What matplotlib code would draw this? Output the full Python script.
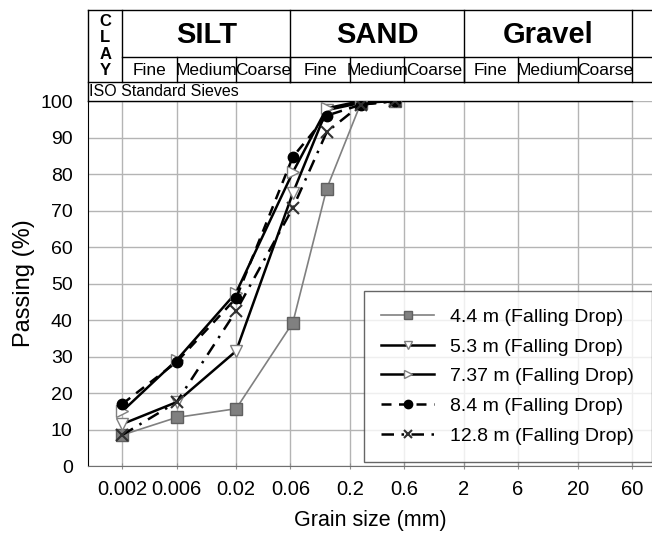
"""
Curbe granulometrice (Falling Drop) cu antet de clasificare ISO deasupra graficului.
"""

import matplotlib
matplotlib.use("Agg")
import matplotlib.pyplot as plt
from matplotlib.ticker import FixedLocator, FixedFormatter, NullLocator
from matplotlib.transforms import blended_transform_factory

plt.rcParams["font.family"] = ["Liberation Sans", "DejaVu Sans"]

# ── Date ─────────────────────────────────────────────────────────────────────

sizes = [0.002, 0.006, 0.02, 0.063, 0.125, 0.25, 0.5]

pass_4_4  = [8.5, 13.3, 15.7, 39.3, 76.0, 99.5, 100.0]
pass_5_3  = [11.5, 17.5, 31.5, 74.8, 97.5, 99.5, 100.0]
pass_7_37 = [15.0, 29.0, 47.5, 80.5, 98.0, 100.0, 100.0]
pass_8_4  = [17.0, 28.5, 46.0, 84.7, 96.0, 99.0, 100.0]
pass_12_8 = [8.5, 17.5, 42.5, 70.7, 91.5, 99.0, 100.0]

labels = ["4.4 m (Falling Drop)", "5.3 m (Falling Drop)", "7.37 m (Falling Drop)",
          "8.4 m (Falling Drop)", "12.8 m (Falling Drop)"]

tick_vals   = [0.002, 0.006, 0.02, 0.06, 0.2, 0.6, 2, 6, 20, 60]
tick_labels = ["0.002", "0.006", "0.02", "0.06", "0.2", "0.6", "2", "6", "20", "60"]

x_min, x_max = 0.001, 90

# antet: fracțiuni principale și subdiviziuni
main_bounds = [(0.002, 0.06, "SILT"), (0.06, 2, "SAND"), (2, 60, "Gravel")]
sub_edges   = [0.002, 0.006, 0.02, 0.06, 0.2, 0.6, 2, 6, 20, 60]
sub_names   = ["Fine", "Medium", "Coarse"] * 3

# ── Grafic ───────────────────────────────────────────────────────────────────

fig = plt.figure(figsize=(6.52, 5.39), dpi=100)
ax = fig.add_axes([0.135, 0.1354, 0.865, 0.6772])

ax.plot(sizes, pass_4_4, color="#808080", lw=1.2, marker="s", ms=8,
        mfc="#808080", mec="#606060", label=labels[0])
ax.plot(sizes, pass_5_3, color="black", lw=1.8, marker="v", ms=8,
        mfc="white", mec="#808080", label=labels[1])
ax.plot(sizes, pass_7_37, color="black", lw=1.8, marker=">", ms=8,
        mfc="white", mec="#808080", label=labels[2])
ax.plot(sizes, pass_8_4, color="black", lw=1.8, ls=(0, (4, 3)), marker="o", ms=7.5,
        mfc="black", mec="black", label=labels[3])
ax.plot(sizes, pass_12_8, color="black", lw=1.8, ls=(0, (5, 3, 1, 3)), marker="x",
        ms=8, mew=1.5, mec="#303030", label=labels[4])

ax.set_xscale("log")
ax.set_xlim(x_min, x_max)
ax.set_ylim(0, 100)
ax.xaxis.set_major_locator(FixedLocator(tick_vals))
ax.xaxis.set_major_formatter(FixedFormatter(tick_labels))
ax.xaxis.set_minor_locator(NullLocator())
ax.set_yticks(range(0, 101, 10))
ax.tick_params(axis="x", labelsize=14.5, length=4, direction="inout",
               color="#909090", pad=8)
ax.tick_params(axis="y", labelsize=14, length=0, pad=11)
ax.grid(True, color="#b4b4b4", lw=1)
ax.set_axisbelow(True)

for side in ["top", "right"]:
    ax.spines[side].set_visible(False)
ax.spines["left"].set_color("black")
ax.spines["bottom"].set_color("#707070")
ax.plot([x_min, 60], [100, 100], color="black", lw=1, clip_on=False, zorder=1)

ax.set_xlabel("Grain size (mm)", fontsize=15.5, labelpad=8)
ax.set_ylabel("Passing (%)", fontsize=17, labelpad=4)

leg = ax.legend(loc="lower left", bbox_to_anchor=(0.489, 0.011), fontsize=14,
                frameon=True, fancybox=False, edgecolor="#404040",
                handlelength=2.7, labelspacing=0.62, borderpad=0.9,
                handletextpad=0.85, borderaxespad=0, markerscale=0.8)
leg.get_frame().set_linewidth(1.0)

# ── Antet clasificare ───────────────────────────────────────────────────────

tr = blended_transform_factory(ax.transData, ax.transAxes)
y_top, y_mid, y_sub = 1.249, 1.1205, 1.052
kw = dict(transform=tr, clip_on=False, color="black", lw=1)

ax.plot([x_min, x_max], [y_top, y_top], **kw)
ax.plot([0.002, x_max], [y_mid, y_mid], **kw)
ax.plot([x_min, x_max], [y_sub, y_sub], **kw)
ax.plot([x_min, x_min], [1.0, y_top], **kw)
ax.plot([0.002, 0.002], [y_sub, y_top], **kw)
for lo, hi, _ in main_bounds:
    ax.plot([hi, hi], [y_sub, y_top], **kw)
for e in sub_edges[1:-1]:
    ax.plot([e, e], [y_sub, y_mid], **kw)

ax.text((x_min * 0.002) ** 0.5, (y_top + y_sub) / 2, "C\nL\nA\nY", transform=tr,
        ha="center", va="center", fontsize=12, fontweight="bold", linespacing=1.1)
for lo, hi, name in main_bounds:
    ax.text((lo * hi) ** 0.5, (y_top + y_mid) / 2 - 0.005, name, transform=tr,
            ha="center", va="center", fontsize=21, fontweight="bold")
for lo, hi, name in zip(sub_edges[:-1], sub_edges[1:], sub_names):
    ax.text((lo * hi) ** 0.5, (y_mid + y_sub) / 2 - 0.004, name, transform=tr,
            ha="center", va="center", fontsize=12.5)
ax.text(x_min * 1.03, (y_sub + 1.0) / 2, "ISO Standard Sieves", transform=tr,
        ha="left", va="center", fontsize=11.5)

fig.savefig("out.png", dpi=100)
